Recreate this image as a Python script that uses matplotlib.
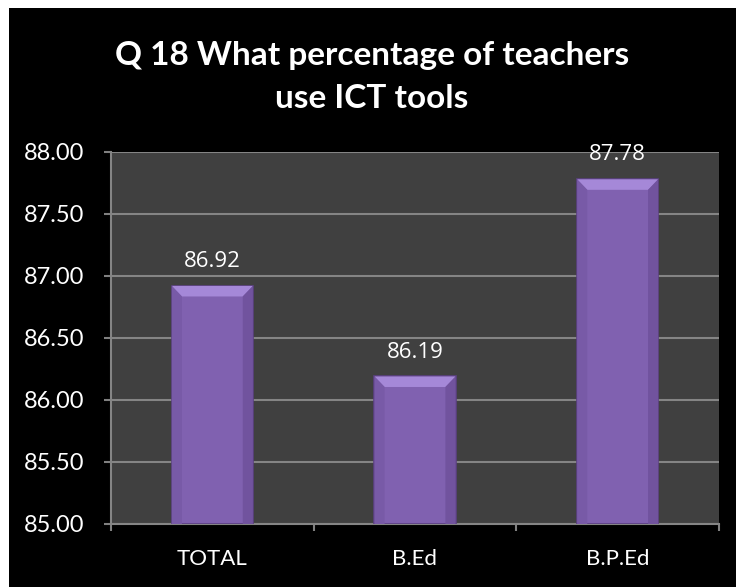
import matplotlib
matplotlib.use("Agg")
import matplotlib.pyplot as plt
from matplotlib.patches import Rectangle, Polygon

categories = ["TOTAL", "B.Ed", "B.P.Ed"]
values = [86.92, 86.19, 87.78]
value_labels = ["86.92", "86.19", "87.78"]
y_ticks = [85.00, 85.50, 86.00, 86.50, 87.00, 87.50, 88.00]

fig = plt.figure(figsize=(7.36, 5.87), dpi=100)
fig.patch.set_facecolor("white")
# black chart area with a small white margin at top/left
fig.patches.append(Rectangle((9 / 736, 0), 1 - 9 / 736, 1 - 8 / 587,
                             transform=fig.transFigure, facecolor="black",
                             edgecolor="none", zorder=-5))

ax = fig.add_axes([111 / 736, 63 / 587, 608 / 736, 372 / 587])
ax.set_facecolor("#404040")

x = list(range(len(categories)))
bar_w = 0.40
bars = ax.bar(x, [v - 85 for v in values], bottom=85, width=bar_w,
              color="#8061b0", edgecolor="#5b4082", linewidth=1.2, zorder=3)

# bevel on top of each bar
for b in bars:
    x0 = b.get_x()
    x1 = x0 + b.get_width()
    top = b.get_y() + b.get_height()
    dx, dy = 0.05, 0.085
    ax.add_patch(Polygon([(x0, top), (x1, top), (x1 - dx, top - dy), (x0 + dx, top - dy)],
                         closed=True, facecolor="#a588d8", edgecolor="none", zorder=4))
    ax.add_patch(Polygon([(x0, top), (x0 + dx, top - dy), (x0 + dx, 85), (x0, 85)],
                         closed=True, facecolor="#785aa7", edgecolor="none", zorder=4))
    ax.add_patch(Polygon([(x1, top), (x1 - dx, top - dy), (x1 - dx, 85), (x1, 85)],
                         closed=True, facecolor="#71539e", edgecolor="none", zorder=4))

for xi, v, lab in zip(x, values, value_labels):
    ax.annotate(lab, (xi, v), xytext=(0, 10), textcoords="offset points",
                ha="center", va="bottom", color="white", fontsize=16,
                family="Open Sans", zorder=6)

ax.set_xlim(-0.5, len(categories) - 0.5)
ax.set_ylim(85, 88)
ax.set_yticks(y_ticks)
ax.set_yticklabels([f"{t:.2f}" for t in y_ticks], family="Lato", fontsize=17, color="white")
ax.set_xticks(x)
ax.set_xticklabels(categories, family="Lato", fontsize=16, color="white")
ax.set_xticks([-0.5, 0.5, 1.5, 2.5], minor=True)
ax.tick_params(axis="x", which="major", length=0, pad=18)
ax.tick_params(axis="x", which="minor", length=5, color="#808080", width=1.5)
ax.tick_params(axis="y", length=5, color="#808080", width=1.5, pad=14)
ax.grid(axis="y", color="#858585", linewidth=1.5, zorder=1)

for s in ["top", "right"]:
    ax.spines[s].set_visible(False)
for s in ["left", "bottom"]:
    ax.spines[s].set_color("#858585")
    ax.spines[s].set_linewidth(1.5)

fig.text(0.5 + 4 / 736, 1 - 77 / 587, "Q 18 What percentage of teachers\nuse ICT tools",
         ha="center", va="center", color="white", fontsize=24, fontweight="bold",
         family="Lato", linespacing=1.55)

fig.savefig("out.png", dpi=100)
